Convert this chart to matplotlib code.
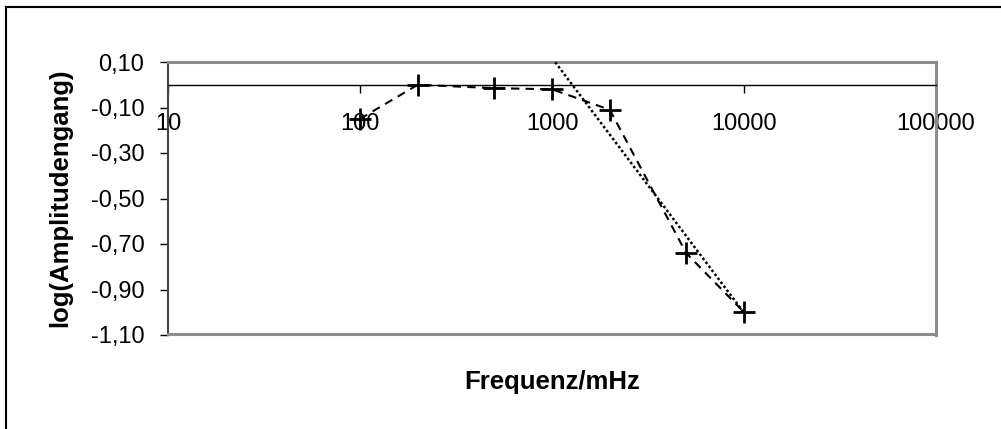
import numpy as np
import matplotlib
matplotlib.use('Agg')
import matplotlib.pyplot as plt
from matplotlib.lines import Line2D
from matplotlib.patches import Rectangle

plt.rcParams['font.family'] = ['Liberation Sans', 'DejaVu Sans']

# Messwerte
freq = [100, 200, 500, 1000, 2000, 5000, 10000]
log_amp = [-0.15, 0.00, -0.015, -0.02, -0.11, -0.74, -1.00]

# Trendlinie  y = m*log10(f) + b
trend_m = -1.12
trend_b = 3.478
trend_f = [900, 10000]

yticks = [0.10, -0.10, -0.30, -0.50, -0.70, -0.90, -1.10]
xticks = [10, 100, 1000, 10000, 100000]

fig = plt.figure(figsize=(10.01, 4.29), dpi=100)
ax = fig.add_axes([168/1001, 1-335/429, (936-168)/1001, (335-62)/429])

ax.set_xscale('log')
ax.set_xlim(10, 100000)
ax.set_ylim(-1.10, 0.10)

ax.plot(freq, log_amp, color='black', ls=(0, (4, 3)), lw=1.5,
        marker='+', ms=16, mew=2, zorder=4)

tf = np.logspace(np.log10(trend_f[0]), np.log10(trend_f[1]), 50)
ax.plot(tf, trend_m*np.log10(tf) + trend_b, color='black', ls=(0, (1, 1)),
        lw=1.8, zorder=3)

# Rahmen
for s in ['top', 'right']:
    ax.spines[s].set_color('#8c8c8c')
    ax.spines[s].set_linewidth(2.2)
ax.spines['left'].set_color('#444444')
ax.spines['left'].set_linewidth(1.5)
ax.spines['bottom'].set_position(('data', 0))
ax.spines['bottom'].set_color('black')
ax.spines['bottom'].set_linewidth(1.0)
ax.add_patch(Rectangle((0, 0), 1, 0.003, transform=ax.transAxes,
                       facecolor='#8c8c8c', edgecolor='#8c8c8c', lw=1.5,
                       clip_on=False, zorder=5))

ax.set_yticks(yticks)
ax.set_yticklabels([f"{v:.2f}".replace('.', ',') for v in yticks])
ax.set_xticks(xticks)
ax.set_xticklabels([str(v) for v in xticks])
ax.xaxis.set_minor_locator(matplotlib.ticker.NullLocator())
ax.tick_params(axis='y', direction='out', length=6, width=1, pad=11,
               labelsize=17)
ax.tick_params(axis='x', direction='out', length=6, width=1, pad=14,
               labelsize=17)

fig.text(60/1001, 1-198/429, 'log(Amplitudengang)', rotation=90,
         ha='center', va='center', fontsize=18.5, fontweight='bold')
fig.text(552/1001, 1-382/429, 'Frequenz/mHz', ha='center', va='center',
         fontsize=18.5, fontweight='bold')

# äußerer Rahmen
fig.add_artist(Line2D([6/1001, 6/1001], [0, 1-7/429], color='black', lw=1.5))
fig.add_artist(Line2D([6/1001, 1], [1-7/429, 1-7/429], color='black', lw=1.5))

fig.savefig('out.png', dpi=100)
